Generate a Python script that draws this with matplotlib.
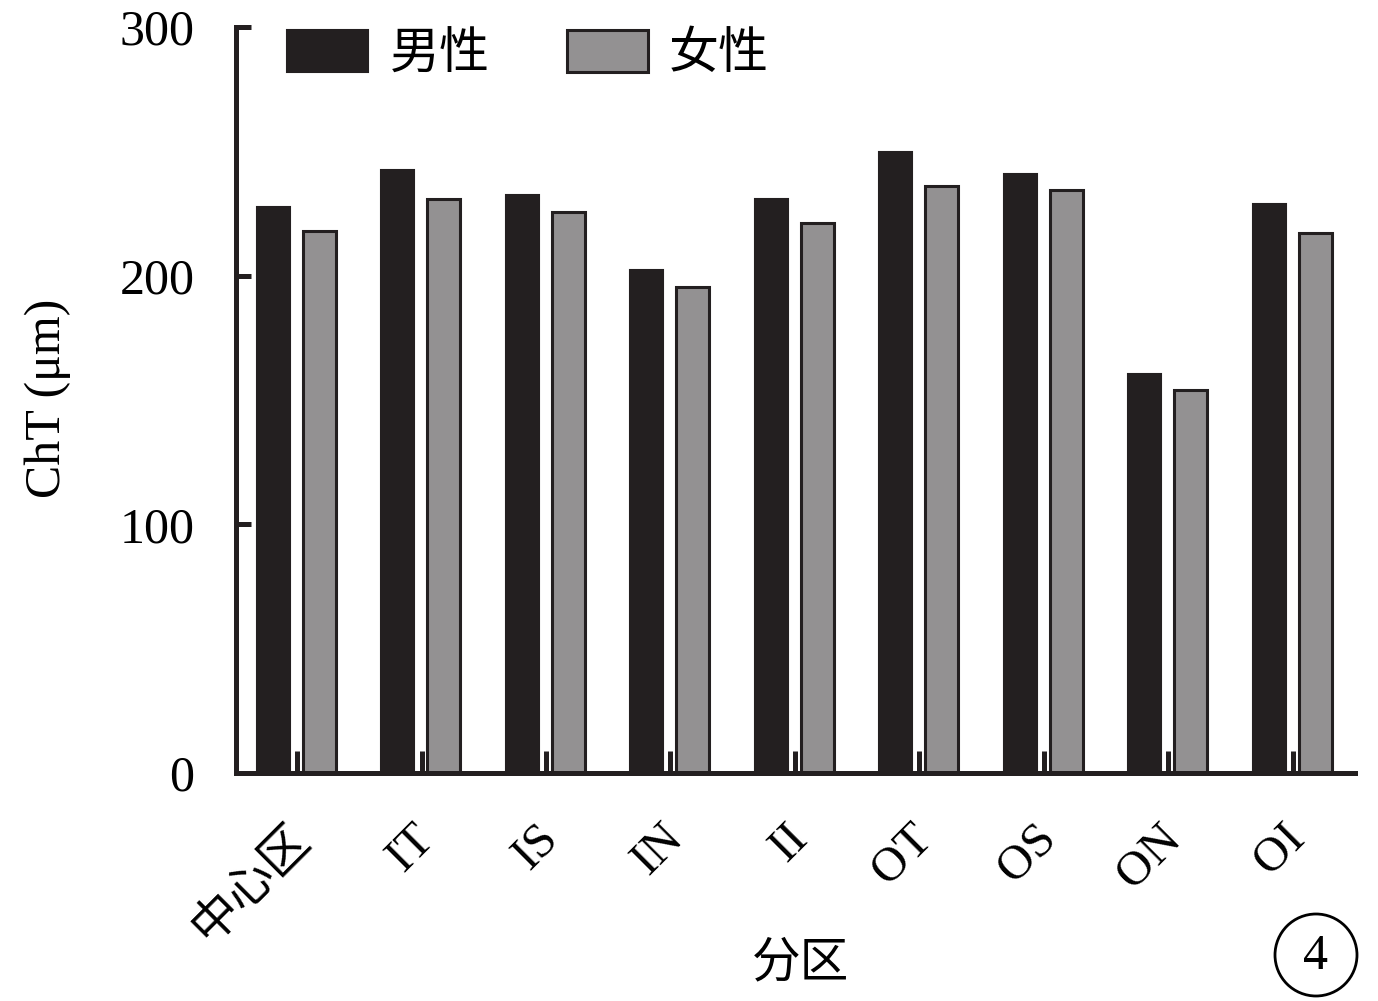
import matplotlib
matplotlib.use("Agg")
import matplotlib.pyplot as plt
import matplotlib.transforms as mtransforms
import numpy as np
from matplotlib.patches import Ellipse

categories = ["中心区", "IT", "IS", "IN", "II", "OT", "OS", "ON", "OI"]
male = [227.6, 242.5, 232.4, 202.3, 230.8, 249.7, 240.9, 160.4, 228.8]
female = [217.9, 230.8, 225.6, 195.4, 221.1, 236.0, 234.4, 154.0, 217.1]
yticks = [0, 100, 200, 300]

plt.rcParams['font.family'] = ['Liberation Serif', 'Noto Sans CJK SC']
dark = '#231f20'
grey = '#939192'

fig = plt.figure(figsize=(13.78, 10.01), dpi=100)
ax = fig.add_axes([0.1713, 0.2278, 0.9833 - 0.1713, 0.973 - 0.2278])

x = np.arange(len(categories))
w = 0.265
ax.bar(x - 0.19, male, width=w, color=dark, edgecolor=dark, linewidth=1.5, label='男性')
ax.bar(x + 0.18, female, width=w, color=grey, edgecolor=dark, linewidth=2.2, label='女性')

ax.set_xlim(-0.49, 8.5)
ax.set_ylim(0, 300)
ax.set_yticks(yticks)
ax.set_xticks(x)
ax.set_xticklabels(categories, rotation=45, ha='right', va='top', rotation_mode='anchor',
                   fontsize=35)
ax.tick_params(axis='y', direction='in', length=11, width=3.6, labelsize=36, pad=30, colors=dark)
ax.tick_params(axis='x', direction='in', length=16, width=3.6, pad=31, colors=dark)
offset = mtransforms.ScaledTranslation(-10 / 100, 0, fig.dpi_scale_trans)
for lab in ax.get_yticklabels():
    lab.set_color('black')
for lab in ax.get_xticklabels():
    lab.set_color('black')
    lab.set_transform(lab.get_transform() + offset)

for s in ['top', 'right']:
    ax.spines[s].set_visible(False)
for s in ['left', 'bottom']:
    ax.spines[s].set_linewidth(3.6)
    ax.spines[s].set_color(dark)
    ax.spines[s].set_capstyle('projecting')

ax.set_ylabel('ChT (μm)', fontsize=36, va='center')
ax.yaxis.set_label_coords((48 - 236) / 1119, (773 - 398) / 746)
ax.set_xlabel('分区', fontsize=35, family=['Noto Sans CJK SC'], va='center')
ax.xaxis.set_label_coords((800 - 236) / 1119, (773 - 963) / 746)

leg = ax.legend(loc='upper left', ncol=2, frameon=False,
                prop={'family': ['Noto Sans CJK SC'], 'size': 36},
                handlelength=1.62, handleheight=0.92, handletextpad=0.42,
                columnspacing=1.55, bbox_to_anchor=(0.028, 1.025), borderaxespad=0)

# circled number
fig.add_artist(Ellipse((1316 / 1378, 1 - 955 / 1001), 82 / 1378, 82 / 1001,
                       transform=fig.transFigure, fill=False, edgecolor='black', linewidth=2))
fig.text(1316 / 1378, 1 - 957 / 1001, '4', ha='center', va='center', fontsize=36)

fig.savefig('out.png', dpi=100)
